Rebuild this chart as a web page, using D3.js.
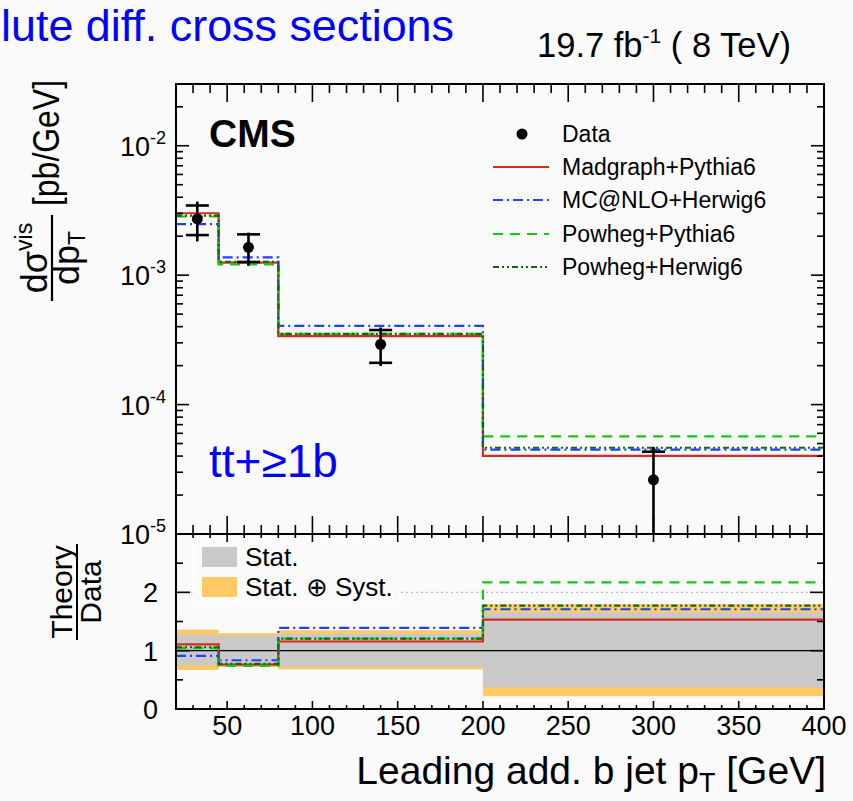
<!DOCTYPE html>
<html>
<head>
<meta charset="utf-8">
<script src="https://cdn.jsdelivr.net/npm/d3@7"></script>
<style>
  html, body { margin: 0; padding: 0; background: #fafafa; }
  svg { display: block; }
  text { font-family: "Liberation Sans", Arial, Helvetica, sans-serif; fill: #000; }
</style>
</head>
<body>
<svg id="chart" width="853" height="801"></svg>
<script>
// Leading additional b-jet pT binning [GeV]
const binEdges = [20, 45, 80, 200, 400];
// Measured points (bin centres) and cross sections [pb/GeV]
const dataX = [32.5, 62.5, 140, 300];
const dataY = [2.72e-3, 1.64e-3, 2.92e-4, 2.62e-5];
// Relative uncertainties of the measurement
const statUp = [0.27, 0.26, 0.29, 0.65];
const statDn = [0.25, 0.23, 0.28, 0.63];
const totUp  = [0.36, 0.30, 0.35, 0.80];
const totDn  = [0.33, 0.28, 0.32, 0.78];
// Generator predictions per bin [pb/GeV]
const madgraphPythia = [3.01e-3, 1.25e-3, 3.38e-4, 4.01e-5];
const mcatnloHerwig  = [2.48e-3, 1.37e-3, 4.06e-4, 4.48e-5];
const powhegPythia   = [2.84e-3, 1.21e-3, 3.52e-4, 5.69e-5];
const powhegHerwig   = [2.88e-3, 1.27e-3, 3.52e-4, 4.64e-5];
const modelNames = ["Madgraph+Pythia6", "MC@NLO+Herwig6", "Powheg+Pythia6", "Powheg+Herwig6"];
// Axis ticks
const xMajorTicks = [50, 100, 150, 200, 250, 300, 350, 400];
const yDecades = [-5, -4, -3, -2];
const ratioMajorTicks = [0, 1, 2];
const ratioMinorTicks = [0.5, 1.5, 2.5];

const models = [
  { name: modelNames[0], values: madgraphPythia, color: "#d92b1c", dash: null, width: 2.2 },
  { name: modelNames[1], values: mcatnloHerwig, color: "#2040ff", dash: "10,4,2,4", width: 2.2 },
  { name: modelNames[2], values: powhegPythia, color: "#10cc10", dash: "10,7", width: 2.2 },
  { name: modelNames[3], values: powhegHerwig, color: "#0b6a0b", dash: "6,3,2,3,2,3", width: 2.2 }
];

const svg = d3.select("#chart");
const W = 853, H = 801;
svg.append("rect").attr("width", W).attr("height", H).attr("fill", "#fafafa");

const L = 176, R = 824, mainTop = 84, mainBot = 534, ratioBot = 709;

const x = d3.scaleLinear().domain([20, 400]).range([L, R]);
const y = d3.scaleLog().domain([1e-5, 0.03]).range([mainBot, mainTop]);
const yr = d3.scaleLinear().domain([0, 3]).range([ratioBot, mainBot]);

const defs = svg.append("defs");
defs.append("clipPath").attr("id", "clipMain").append("rect")
  .attr("x", L).attr("y", mainTop).attr("width", R - L).attr("height", mainBot - mainTop);
defs.append("clipPath").attr("id", "clipRatio").append("rect")
  .attr("x", L).attr("y", mainBot).attr("width", R - L).attr("height", ratioBot - mainBot);

// step outline through the bins
function stepPath(values, ys) {
  let p = "";
  values.forEach((v, i) => {
    const x0 = x(binEdges[i]), x1 = x(binEdges[i + 1]), yy = ys(v);
    p += (i === 0 ? `M${x0},${yy}` : `V${yy}`) + `H${x1}`;
  });
  return p;
}

// ---------- main panel ----------
const gMain = svg.append("g").attr("clip-path", "url(#clipMain)");

models.forEach(m => {
  gMain.append("path").attr("d", stepPath(m.values, y))
    .attr("fill", "none").attr("stroke", m.color).attr("stroke-width", m.width)
    .attr("stroke-dasharray", m.dash);
});

// data points with stat (capped) and total uncertainties
dataY.forEach((v, i) => {
  const cx = x(dataX[i]);
  const lo = Math.max(v * (1 - totDn[i]), 1e-7);
  gMain.append("line").attr("x1", cx).attr("x2", cx)
    .attr("y1", y(v * (1 + totUp[i]))).attr("y2", y(lo))
    .attr("stroke", "#000").attr("stroke-width", 2.6);
  [v * (1 + statUp[i]), v * (1 - statDn[i])].forEach(e => {
    gMain.append("line").attr("x1", cx - 11.5).attr("x2", cx + 11.5)
      .attr("y1", y(e)).attr("y2", y(e))
      .attr("stroke", "#000").attr("stroke-width", 2.6);
  });
  gMain.append("circle").attr("cx", cx).attr("cy", y(v)).attr("r", 5.5).attr("fill", "#000");
});

// ---------- ratio panel ----------
const gRatio = svg.append("g").attr("clip-path", "url(#clipRatio)");
binEdges.slice(0, -1).forEach((e, i) => {
  const x0 = x(e), x1 = x(binEdges[i + 1]);
  gRatio.append("rect").attr("x", x0).attr("width", x1 - x0)
    .attr("y", yr(1 + totUp[i])).attr("height", yr(1 - totDn[i]) - yr(1 + totUp[i]))
    .attr("fill", "#ffc965");
  gRatio.append("rect").attr("x", x0).attr("width", x1 - x0)
    .attr("y", yr(1 + statUp[i])).attr("height", yr(1 - statDn[i]) - yr(1 + statUp[i]))
    .attr("fill", "#c9c9c9");
});
gRatio.append("line").attr("x1", x(20)).attr("x2", x(400)).attr("y1", yr(1)).attr("y2", yr(1))
  .attr("stroke", "#000").attr("stroke-width", 1.4);
gRatio.append("line").attr("x1", x(20)).attr("x2", x(393)).attr("y1", yr(2)).attr("y2", yr(2))
  .attr("stroke", "#bbb").attr("stroke-width", 1.3).attr("stroke-dasharray", "2,3");

// uncertainty legend box
const lg2 = svg.append("g");
lg2.append("rect").attr("x", 193).attr("y", 538).attr("width", 207).attr("height", 64)
  .attr("fill", "#fafafa").attr("stroke", "#ffffff").attr("stroke-width", 1);
lg2.append("rect").attr("x", 202).attr("y", 547).attr("width", 35).attr("height", 20).attr("fill", "#c9c9c9");
lg2.append("rect").attr("x", 202).attr("y", 577).attr("width", 35).attr("height", 20).attr("fill", "#ffc965");
lg2.append("text").attr("x", 245).attr("y", 566).attr("font-size", 26).text("Stat.");
lg2.append("text").attr("x", 245).attr("y", 596).attr("font-size", 26).text("Stat. \u2295 Syst.");

models.forEach(m => {
  const ratios = m.values.map((v, i) => v / dataY[i]);
  gRatio.append("path").attr("d", stepPath(ratios, yr))
    .attr("fill", "none").attr("stroke", m.color).attr("stroke-width", m.width)
    .attr("stroke-dasharray", m.dash);
});

// ---------- frames and ticks ----------
const axes = svg.append("g").attr("stroke", "#000").attr("fill", "none");
axes.append("rect").attr("x", L).attr("y", mainTop).attr("width", R - L).attr("height", mainBot - mainTop).attr("stroke-width", 2);
axes.append("rect").attr("x", L).attr("y", mainBot).attr("width", R - L).attr("height", ratioBot - mainBot).attr("stroke-width", 2);

function tick(x1, y1, x2, y2) {
  axes.append("line").attr("x1", x1).attr("y1", y1).attr("x2", x2).attr("y2", y2).attr("stroke-width", 1.6);
}
const xMinor = d3.range(20, 401, 10).filter(v => !xMajorTicks.includes(v));
xMajorTicks.forEach(v => {
  const px = x(v);
  tick(px, mainTop, px, mainTop + 18); tick(px, mainBot, px, mainBot - 18);
  tick(px, mainBot, px, mainBot + 8); tick(px, ratioBot, px, ratioBot - 8);
});
xMinor.forEach(v => {
  const px = x(v);
  tick(px, mainTop, px, mainTop + 9); tick(px, mainBot, px, mainBot - 9);
  tick(px, mainBot, px, mainBot + 4); tick(px, ratioBot, px, ratioBot - 4);
});
// log ticks on the main panel
yDecades.forEach(d => {
  for (let k = 1; k <= 9; k++) {
    const v = k * Math.pow(10, d);
    if (v < 1e-5 || v > 0.03) continue;
    const len = k === 1 ? 13 : 7, py = y(v);
    tick(L, py, L + len, py); tick(R, py, R - len, py);
  }
});
ratioMajorTicks.forEach(v => { const py = yr(v); tick(L, py, L + 14, py); tick(R, py, R - 14, py); });
ratioMinorTicks.forEach(v => { const py = yr(v); tick(L, py, L + 7, py); tick(R, py, R - 7, py); });

// ---------- tick labels ----------
const lab = svg.append("g");
xMajorTicks.forEach(v => {
  lab.append("text").attr("x", x(v)).attr("y", 735).attr("text-anchor", "middle")
    .attr("font-size", 27).text(v);
});
yDecades.forEach(d => {
  const t = lab.append("text").attr("x", 166).attr("y", y(Math.pow(10, d)) + 10)
    .attr("text-anchor", "end").attr("font-size", 27);
  t.append("tspan").text("10");
  t.append("tspan").attr("dy", -12).attr("font-size", 18).text(String(d));
});
ratioMajorTicks.forEach(v => {
  lab.append("text").attr("x", 158).attr("y", yr(v) + 10).attr("text-anchor", "end")
    .attr("font-size", 27).text(v);
});

// ---------- axis titles ----------
const xt = lab.append("text").attr("x", 826).attr("y", 784).attr("text-anchor", "end").attr("font-size", 39);
xt.append("tspan").text("Leading add. b jet p");
xt.append("tspan").attr("dy", 8).attr("font-size", 27).text("T");
xt.append("tspan").attr("dy", -8).text(" [GeV]");

// main y title: fraction plus unit, rotated
const yt = svg.append("g").attr("transform", "rotate(-90)");
yt.append("text").attr("x", -80).attr("y", 59).attr("text-anchor", "end").attr("font-size", 37)
  .attr("textLength", 126).attr("lengthAdjust", "spacingAndGlyphs").text("[pb/GeV]");
const fc = -258;
const num = yt.append("text").attr("x", fc).attr("y", 47).attr("text-anchor", "middle").attr("font-size", 36);
num.append("tspan").text("d\u03c3");
num.append("tspan").attr("dy", -15).attr("font-size", 23).text("vis");
yt.append("line").attr("x1", fc - 43).attr("x2", fc + 43).attr("y1", 52).attr("y2", 52)
  .attr("stroke", "#000").attr("stroke-width", 2.2);
const den = yt.append("text").attr("x", fc).attr("y", 79).attr("text-anchor", "middle").attr("font-size", 36);
den.append("tspan").text("dp");
den.append("tspan").attr("dy", 6).attr("font-size", 23).text("T");

// ratio y title
const rc = -592;
yt.append("text").attr("x", rc).attr("y", 72).attr("text-anchor", "middle").attr("font-size", 30).text("Theory");
yt.append("line").attr("x1", rc - 48).attr("x2", rc + 48).attr("y1", 77).attr("y2", 77)
  .attr("stroke", "#000").attr("stroke-width", 2);
yt.append("text").attr("x", rc).attr("y", 101).attr("text-anchor", "middle").attr("font-size", 30).text("Data");

// ---------- labels inside the plot ----------
svg.append("text").attr("x", 209).attr("y", 147).attr("font-size", 39).attr("font-weight", "bold").text("CMS");
svg.append("text").attr("x", 209).attr("y", 477).attr("font-size", 46).style("fill", "#0000ff").text("tt+\u22651b");

// model legend
const lg = svg.append("g");
const rowY = [134, 167, 200, 234, 267];
lg.append("circle").attr("cx", 522).attr("cy", rowY[0]).attr("r", 5.5).attr("fill", "#000");
lg.append("text").attr("x", 562).attr("y", rowY[0] + 8).attr("font-size", 23).text("Data");
models.forEach((m, i) => {
  const ry = rowY[i + 1];
  lg.append("line").attr("x1", 493).attr("x2", 549).attr("y1", ry).attr("y2", ry)
    .attr("stroke", m.color).attr("stroke-width", m.width).attr("stroke-dasharray", m.dash);
  lg.append("text").attr("x", 562).attr("y", ry + 8).attr("font-size", 23).text(m.name);
});

// ---------- header ----------
svg.append("text").attr("x", 1).attr("y", 41).attr("font-size", 44)
  .attr("textLength", 453).attr("lengthAdjust", "spacingAndGlyphs")
  .style("fill", "#0000ff").text("lute diff. cross sections");
const lumi = svg.append("text").attr("x", 791).attr("y", 57).attr("text-anchor", "end").attr("font-size", 34.5);
lumi.append("tspan").text("19.7 fb");
lumi.append("tspan").attr("dy", -14).attr("font-size", 21).text("-1");
lumi.append("tspan").attr("dy", 14).text(" ( 8 TeV)");
</script>
</body>
</html>
